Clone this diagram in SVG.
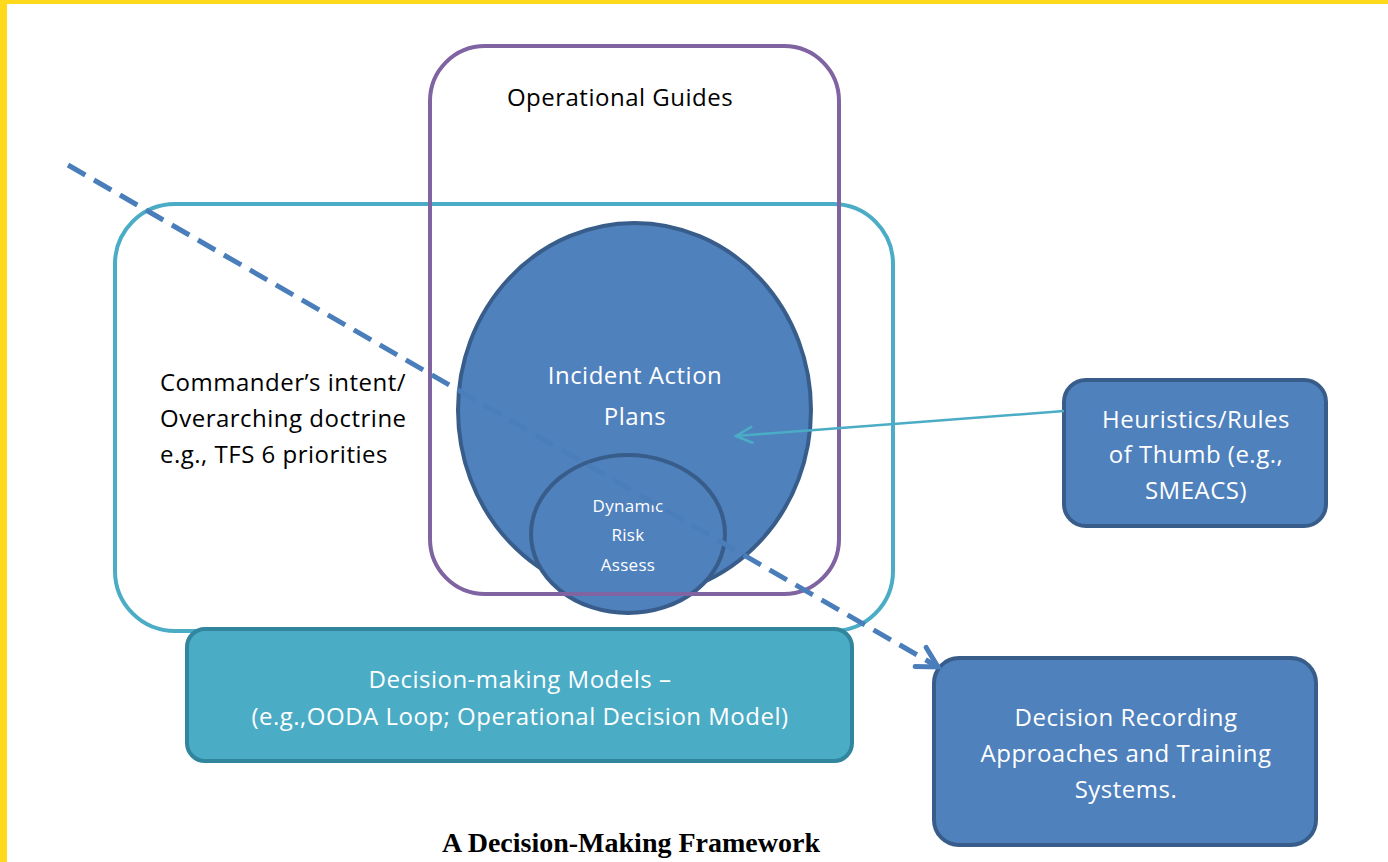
<svg xmlns="http://www.w3.org/2000/svg" width="1388" height="862" viewBox="0 0 1388 862">
<style>
.t{font-family:"Open Sans","Liberation Sans",sans-serif;font-size:24px;letter-spacing:0.5px;text-anchor:middle}
.s{font-size:17px;letter-spacing:0.3px}
.w{fill:#ffffff}
.k{fill:#000000}
</style>
<defs>
<marker id="open" markerWidth="22" markerHeight="22" refX="19" refY="11" orient="auto" markerUnits="userSpaceOnUse">
<path d="M3,3 L19,11 L3,19" fill="none" stroke="#4bacc6" stroke-width="2.5" stroke-linecap="round"/>
</marker>
<marker id="openB" markerWidth="30" markerHeight="30" refX="24" refY="15" orient="auto" markerUnits="userSpaceOnUse">
<path d="M4,4 L24,15 L4,26" fill="none" stroke="#4a7ebb" stroke-width="5" stroke-linecap="round"/>
</marker>
</defs>
<rect x="0" y="0" width="1388" height="862" fill="#ffffff"/>
<rect x="0" y="0" width="1388" height="4" fill="#ffd91c"/>
<rect x="0" y="0" width="7" height="862" fill="#ffd91c"/>

<g id="doctrine">
<rect x="115" y="204" width="778" height="427" rx="60" fill="none" stroke="#4bacc6" stroke-width="4"/>
<text class="t k" x="160" y="391" style="text-anchor:start">Commander’s intent/</text>
<text class="t k" x="160" y="427" style="text-anchor:start">Overarching doctrine</text>
<text class="t k" x="160" y="463" style="text-anchor:start">e.g., TFS 6 priorities</text>
</g>

<g id="iap">
<ellipse cx="634.5" cy="410" rx="176.5" ry="187" fill="#4f81bd" stroke="#385d8a" stroke-width="4"/>
<text class="t w" x="635" y="384">Incident Action</text>
<text class="t w" x="635" y="425">Plans</text>
</g>

<g id="dra">
<ellipse cx="628" cy="534" rx="97" ry="79" fill="#4f81bd" stroke="#385d8a" stroke-width="4"/>
<text class="t s w" x="628" y="512">Dynamic</text>
<text class="t s w" x="628" y="541">Risk</text>
<text class="t s w" x="628" y="571">Assess</text>
</g>

<g id="guides">
<rect x="430" y="46" width="409" height="548" rx="55" fill="none" stroke="#8064a2" stroke-width="4"/>
<text class="t k" x="620" y="106">Operational Guides</text>
</g>

<g id="models">
<rect x="187" y="629" width="665" height="132" rx="18" fill="#4bacc6" stroke="#31859c" stroke-width="4"/>
<text class="t w" x="520" y="688">Decision-making Models –</text>
<text class="t w" x="520" y="725">(e.g.,OODA Loop; Operational Decision Model)</text>
</g>

<g id="heuristics">
<rect x="1064" y="380" width="262" height="146" rx="22" fill="#4f81bd" stroke="#385d8a" stroke-width="4"/>
<text class="t w" x="1196" y="428">Heuristics/Rules</text>
<text class="t w" x="1196" y="463">of Thumb (e.g.,</text>
<text class="t w" x="1196" y="499">SMEACS)</text>
</g>

<g id="recording">
<rect x="934" y="658" width="382" height="187" rx="25" fill="#4f81bd" stroke="#385d8a" stroke-width="4"/>
<text class="t w" x="1126" y="726">Decision Recording</text>
<text class="t w" x="1126" y="762">Approaches and Training</text>
<text class="t w" x="1126" y="798">Systems.</text>
</g>

<g id="connectors">
<line x1="1064" y1="411" x2="736" y2="436" stroke="#4bacc6" stroke-width="2.5" marker-end="url(#open)"/>
<line x1="68" y1="165" x2="938" y2="667" stroke="#4a7ebb" stroke-width="5" stroke-dasharray="20,10" marker-end="url(#openB)"/>
</g>

<text x="631" y="852" style="font-family:'Liberation Serif',serif;font-weight:bold;font-size:28px;text-anchor:middle" fill="#000000">A Decision-Making Framework</text>
</svg>
